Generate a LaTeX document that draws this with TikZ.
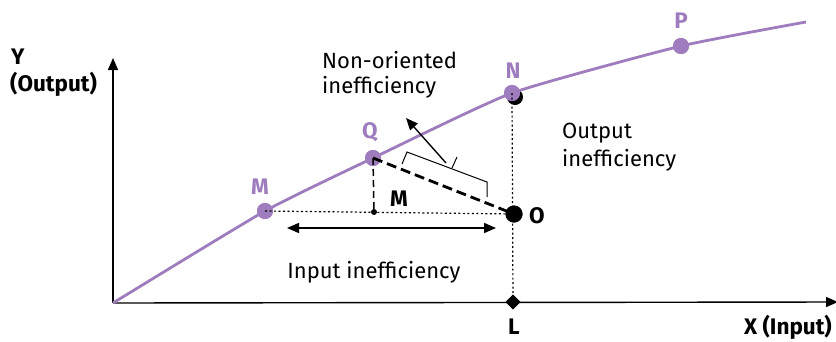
\documentclass[tikz,border=0pt]{standalone}
\usepackage{fontspec}
\setmainfont{Fira Sans}
\usetikzlibrary{arrows.meta,shapes.geometric}
\definecolor{purp}{RGB}{158,124,189}
\begin{document}
\begin{tikzpicture}[x=1pt,y=-1pt,
  txt/.style={font=\fontsize{22}{26}\selectfont, inner sep=0pt},
  btxt/.style={font=\fontsize{22.5}{26}\selectfont\bfseries, inner sep=0pt},
  plab/.style={btxt, text=purp},
  ppt/.style={circle, fill=purp, minimum size=16pt, inner sep=0pt},
  bpt/.style={circle, fill=black, minimum size=17pt, inner sep=0pt},
  axis/.style={line width=1.4pt, -{Triangle[length=12pt,width=10pt]}},
  curve/.style={line width=2.8pt, draw=purp},
  dotl/.style={line width=1.2pt, dash pattern=on 2pt off 2.5pt},
  harrow/.style={line width=1.5pt, {Triangle[length=12pt,width=10pt]}-{Triangle[length=12pt,width=10pt]}}]
\useasboundingbox (0,0) rectangle (836,341);
% axes
\coordinate (O0) at (113,303);
\coordinate (Ytop) at (113,58);
\coordinate (Xend) at (838,302);
\draw[axis] (O0) -- (Ytop);
\draw[axis] (O0) -- (Xend);
% points
\coordinate (E) at (806,22);
\node[bpt, minimum size=16pt] (Nsh) at (515,97) {};
\node[ppt] (M) at (265,211) {};
\node[ppt] (Q) at (373,158) {};
\node[ppt] (N) at (512,93) {};
\node[ppt] (P) at (681,46) {};
\node[bpt] (O) at (514,214) {};
\node[circle, fill=black, minimum size=6pt, inner sep=0pt] (Mb) at (374,212) {};
\node[diamond, fill=black, minimum size=15pt, inner sep=0pt] (L) at (513,302) {};
% frontier
\draw[curve] plot[smooth, tension=0.3] coordinates {(O0) (M.center) (Q.center) (N.center) (P.center) (E)};
\node[ppt] at (M) {};
\node[ppt] at (Q) {};
\node[ppt] at (N) {};
\node[ppt] at (P) {};
% guide lines
\draw[dotl] (M.center) -- (O.center);
\draw[dotl] (N.center) -- (L.center);
\draw[line width=1.5pt, dash pattern=on 7pt off 4pt] (Q.center) -- (Mb.center);
\draw[line width=2.8pt, dash pattern=on 10pt off 5pt] (Q.center) -- (O.center);
\node[bpt] at (O) {};
\node[diamond, fill=black, minimum size=15pt, inner sep=0pt] at (L) {};
% input inefficiency arrow
\coordinate (ia1) at (287,228);
\coordinate (ia2) at (496,228);
\draw[harrow] (ia1) -- (ia2);
% brace
\coordinate (b1) at (402,164);
\coordinate (b2) at (407,152);
\coordinate (bm) at (452,168);
\coordinate (bt) at (457,157);
\coordinate (b3) at (487,182);
\coordinate (b4) at (487,197);
\draw[line width=1pt] (b1) -- (b2) -- (b3) -- (b4);
\draw[line width=1pt] (bm) -- (bt);
\coordinate (at1) at (446,163);
\coordinate (at2) at (406,118);
\draw[line width=1.4pt, -{Triangle[length=12pt,width=10pt]}] (at1) -- (at2);
% labels
\node[btxt, anchor=west] (ylab) at (11,57) {Y};
\node[btxt, anchor=west] (ylab2) at (10,84) {(Output)};
\node[txt, anchor=west] (no1) at (322,60) {Non-oriented};
\node[txt, anchor=west] (no2) at (322,87) {inefficiency};
\node[txt, anchor=west] (oi1) at (562,133) {Output};
\node[txt, anchor=west] (oi2) at (562,160) {inefficiency};
\node[txt] (ii) at (374,272) {Input inefficiency};
\node[plab] (Nl) at (513,71) {N};
\node[plab] (Ql) at (370,132) {Q};
\node[plab] (Ml) at (260,187) {M};
\node[plab] (Pl) at (681,21) {P};
\node[btxt] (Mbl) at (399,199) {M};
\node[btxt] (Ol) at (537,216) {O};
\node[btxt] (Ll) at (514,327) {L};
\node[btxt, anchor=east] (xl) at (832,327) {X (Input)};
\end{tikzpicture}
\end{document}
